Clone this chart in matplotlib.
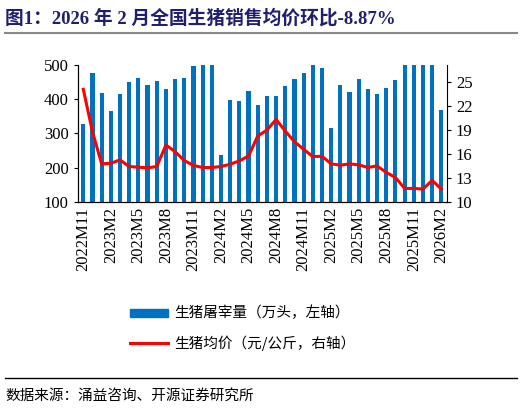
import matplotlib
matplotlib.use("Agg")
import matplotlib.pyplot as plt
import numpy as np
from matplotlib.lines import Line2D
from matplotlib.patches import Rectangle

months = []
y, m = 2022, 11
for i in range(40):
    months.append(f"{y}M{m}")
    m += 1
    if m > 12:
        m = 1; y += 1

stock = [328, 476, 419, 365, 414, 451, 463, 440, 452, 430, 458, 461, 498, 510, 510,
         238, 398, 394, 424, 384, 408, 410, 438, 459, 477, 510, 492, 315, 440, 420,
         459, 430, 416, 433, 456, 510, 499, 510, 510, 367]
price = [24.05, 18.76, 14.75, 14.83, 15.25, 14.42, 14.34, 14.26, 14.42, 17.1,
         16.28, 15.17, 14.55, 14.3, 14.3, 14.42, 14.71, 15.12, 15.74, 18.22,
         18.97, 20.29, 18.84, 17.52, 16.57, 15.66, 15.7, 14.75, 14.59, 14.75,
         14.63, 14.3, 14.5, 13.68, 13.06, 11.69, 11.69, 11.61, 12.69, 11.61]

serif = ['Liberation Serif', 'Noto Sans CJK SC']
cjk = ['Noto Sans CJK SC', 'Liberation Serif']

fig = plt.figure(figsize=(5.22, 4.08), dpi=100)
ax = fig.add_axes([0.149, 0.505, 0.707, 0.336])
x = np.arange(len(months))
ax.bar(x, stock, width=0.45, color='#0070C0', zorder=2)
ax.set_ylim(100, 500)
ax.set_xlim(-0.6, len(months) - 0.4)
ax.set_yticks([100, 200, 300, 400, 500])
ax.set_xticks(x[::3])
ax.set_xticklabels(months[::3], rotation=90, family=serif, fontsize=12)
ax.set_xticks(x, minor=True)
for lab in ax.get_yticklabels():
    lab.set_family(serif); lab.set_fontsize(12)
ax.tick_params(axis='x', which='both', length=3, direction='in')
ax.tick_params(axis='y', length=3, direction='out')
ax.spines['top'].set_visible(False)
ax.spines['right'].set_visible(False)

ax2 = ax.twinx()
ax2.plot(x, price, color='#FF0000', lw=2.2, zorder=3)
ax2.set_ylim(10, 27.1)
ax2.set_yticks([10, 13, 16, 19, 22, 25])
for lab in ax2.get_yticklabels():
    lab.set_family(serif); lab.set_fontsize(12)
ax2.spines['top'].set_visible(False)
ax2.tick_params(axis='y', length=3, direction='out')

fig.text(0.01, 0.955, "图1：2026 年 2 月全国生猪销售均价环比-8.87%", family=serif,
         fontweight='bold', fontsize=13.5, color='#1F1F6E', va='center')
fig.add_artist(Line2D([0.01, 0.99], [0.918, 0.918], color='#888888', lw=1.5))
fig.add_artist(Line2D([0.01, 0.99], [1 - 378/408, 1 - 378/408], color='black', lw=1))
fig.text(0.01, 1 - 396/408, "数据来源：涌益咨询、开源证券研究所", family=cjk, fontsize=10.5, va='center')

fig.add_artist(Rectangle((130/522, 1 - 317/408), 38/522, 8/408, color='#0070C0'))
fig.text(174/522, 1 - 313/408, "生猪屠宰量（万头，左轴）", family=cjk, fontsize=10.5, va='center')
fig.add_artist(Line2D([130/522, 168/522], [1 - 343/408, 1 - 343/408], color='#FF0000', lw=2.2))
fig.text(174/522, 1 - 343/408, "生猪均价（元/公斤，右轴）", family=cjk, fontsize=10.5, va='center')

fig.savefig("out.png", dpi=100)
